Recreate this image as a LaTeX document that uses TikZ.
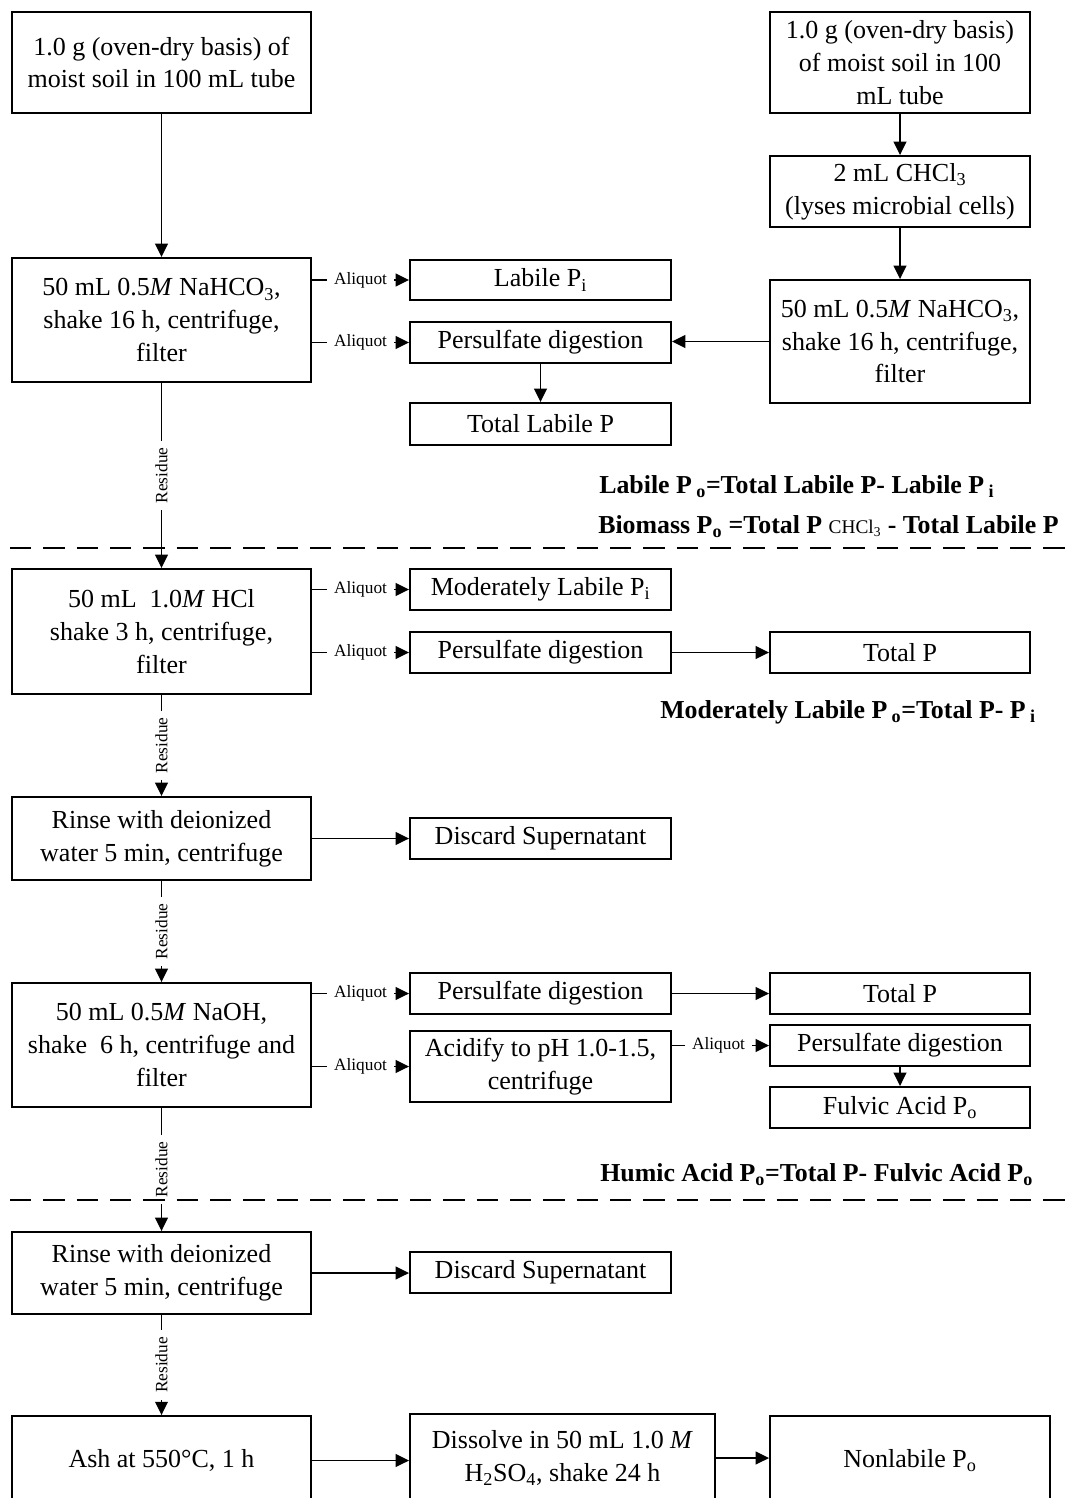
\documentclass[tikz,border=0pt]{standalone}
\usepackage{fontspec}
\setmainfont{Liberation Serif}
\usetikzlibrary{arrows.meta}
\newcommand\mainfs{\fontsize{19.5}{24.5}\selectfont}
\newcommand\smallfs{\fontsize{13}{15}\selectfont}
\newcommand\formfs{\fontsize{19.4}{22}\selectfont\bfseries}
\begin{document}
\begin{tikzpicture}[x=0.75pt,y=-0.75pt,
  bx/.style={draw, line width=1.4pt, inner sep=0pt, align=center, font=\mainfs},
  W/.style={minimum width=#1*0.75pt},
  H/.style={minimum height=#1*0.75pt},
  arr/.style={line width=1.3pt, -{Triangle[length=10pt,width=9.5pt]}},
  lab/.style={fill=white, font=\smallfs, inner xsep=5pt, inner ysep=1.5pt},
  form/.style={anchor=west, inner sep=0pt, font=\formfs},
  sep/.style={line width=2.2pt, dash pattern=on 16pt off 9pt}]
\useasboundingbox (0,0) rectangle (1065,1498);
\clip (0,0) rectangle (1065,1498);
% left column
\node[bx,W=299,H=101] (a1) at (161.5,62.5) {1.0 g (oven-dry basis) of\\moist soil in 100 mL tube};
\node[bx,W=299,H=124] (a2) at (161.5,320) {50 mL 0.5\textit{M} NaHCO\textsubscript{3},\\shake 16 h, centrifuge,\\filter};
\node[bx,W=299,H=125] (a3) at (161.5,631.5) {50 mL \ 1.0\textit{M} HCl\\shake 3 h, centrifuge,\\filter};
\node[bx,W=299,H=83] (a4) at (161.5,838.5) {Rinse with deionized\\water 5 min, centrifuge};
\node[bx,W=299,H=124] (a5) at (161.5,1045) {50 mL 0.5\textit{M} NaOH,\\shake \ 6 h, centrifuge and\\filter};
\node[bx,W=299,H=82] (a6) at (161.5,1273) {Rinse with deionized\\water 5 min, centrifuge};
\node[bx,W=299,H=89] (a7) at (161.5,1460.5) {Ash at 550°C, 1 h};
% right column
\node[bx,W=260,H=101] (b1) at (900,62.5) {1.0 g (oven-dry basis)\\of moist soil in 100\\mL tube};
\node[bx,W=260,H=71] (b2) at (900,191.5) {2 mL CHCl\textsubscript{3}\\(lyses microbial cells)};
\node[bx,W=260,H=123] (b3) at (900,341.5) {50 mL 0.5\textit{M} NaHCO\textsubscript{3},\\shake 16 h, centrifuge,\\filter};
% middle column
\node[bx,W=261,H=40] (lpi) at (540.5,280) {Labile P\textsubscript{i}};
\node[bx,W=261,H=41] (pd1) at (540.5,342.5) {Persulfate digestion};
\node[bx,W=261,H=42] (tlp) at (540.5,424) {Total Labile P};
\node[bx,W=261,H=41] (mlpi) at (540.5,589.5) {Moderately Labile P\textsubscript{i}};
\node[bx,W=261,H=41] (pd2) at (540.5,652.5) {Persulfate digestion};
\node[bx,W=260,H=41] (tp1) at (900,652.5) {Total P};
\node[bx,W=261,H=41] (ds1) at (540.5,838.5) {Discard Supernatant};
\node[bx,W=261,H=41] (pd3) at (540.5,993.5) {Persulfate digestion};
\node[bx,W=261,H=71] (acid) at (540.5,1066.5) {Acidify to pH 1.0-1.5,\\centrifuge};
\node[bx,W=260,H=41] (tp2) at (900,993.5) {Total P};
\node[bx,W=260,H=41] (pd4) at (900,1045.5) {Persulfate digestion};
\node[bx,W=260,H=41] (fap) at (900,1107.5) {Fulvic Acid P\textsubscript{o}};
\node[bx,W=261,H=41] (ds2) at (540.5,1272.5) {Discard Supernatant};
\node[bx,W=305,H=88] (dis) at (562.5,1458) {Dissolve in 50 mL 1.0 \textit{M}\\H\textsubscript{2}SO\textsubscript{4}, shake 24 h};
\node[bx,W=280,H=89] (nl) at (910,1460.5) {Nonlabile P\textsubscript{o}};
% formulas
\node[form] (f1) at (599,487) {Labile P\,\textsubscript{o}=Total Labile P- Labile P\,\textsubscript{i}};
\node[form] (f2) at (598,527) {Biomass P\textsubscript{o} =Total P {\mdseries\fontsize{14.5}{16}\selectfont CHCl\textsubscript{3}} - Total Labile P};
\node[form] (f3) at (660,712) {Moderately Labile P\,\textsubscript{o}=Total P- P\,\textsubscript{i}};
\node[form] (f4) at (600,1175) {Humic Acid P\textsubscript{o}=Total P- Fulvic Acid P\textsubscript{o}};
% straight arrows
\draw[arr] (a1) -- (a2);
\draw[arr] (b1) -- (b2);
\draw[arr] (b2) -- (b3);
\draw[arr] (b3.west) -- (b3.west -| pd1.east);
\draw[arr] (pd1) -- (tlp);
\draw[arr] (pd2) -- (tp1);
\draw[arr] (a4) -- (ds1);
\draw[arr] (pd3) -- (tp2);
\draw[arr] (pd4) -- (fap);
\draw[arr] (a6.east) -- (a6.east -| ds2.west);
\draw[arr] (a7.east) -- (a7.east -| dis.west);
\draw[arr] (dis.east) -- (dis.east -| nl.west);
% aliquot arrows
\draw[arr] (a2.east |- lpi) -- (lpi.west) node[lab,pos=0.5] {Aliquot};
\draw[arr] (a2.east |- pd1) -- (pd1.west) node[lab,pos=0.5] {Aliquot};
\draw[arr] (a3.east |- mlpi) -- (mlpi.west) node[lab,pos=0.5] {Aliquot};
\draw[arr] (a3.east |- pd2) -- (pd2.west) node[lab,pos=0.5] {Aliquot};
\draw[arr] (a5.east |- pd3) -- (pd3.west) node[lab,pos=0.5] {Aliquot};
\draw[arr] (a5.east |- acid) -- (acid.west) node[lab,pos=0.5] {Aliquot};
\draw[arr] (acid.east |- pd4) -- (pd4.west) node[lab,pos=0.48] {Aliquot};
% residue arrows
\draw[arr] (a2) -- (a3) node[lab,midway,rotate=90] {Residue};
\draw[arr] (a3) -- (a4) node[lab,midway,rotate=90] {Residue};
\draw[arr] (a4) -- (a5) node[lab,midway,rotate=90] {Residue};
\draw[arr] (a5) -- (a6) node[lab,midway,rotate=90] {Residue};
\draw[arr] (a6) -- (a7) node[lab,midway,rotate=90] {Residue};
% separators
\coordinate (s1l) at (10,548);
\coordinate (s1r) at (1065,548);
\coordinate (s2l) at (10,1200);
\coordinate (s2r) at (1065,1200);
\draw[sep] (s1l) -- (s1r);
\draw[sep] (s2l) -- (s2r);
\end{tikzpicture}
\end{document}
